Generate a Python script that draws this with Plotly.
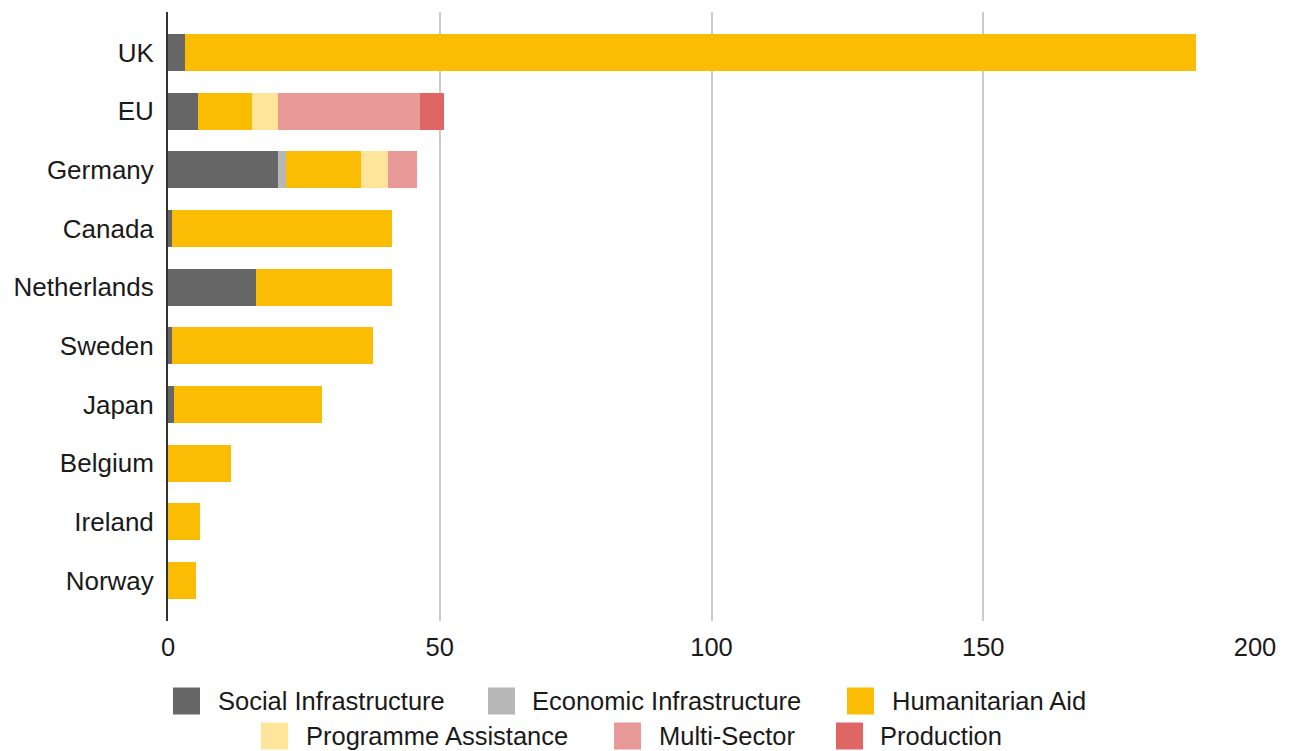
import plotly.graph_objects as go

countries = ["UK", "EU", "Germany", "Canada", "Netherlands", "Sweden", "Japan", "Belgium", "Ireland", "Norway"]
social = [3.1, 5.6, 20.2, 0.7, 16.1, 0.7, 1.1, 0, 0, 0]
economic = [0, 0, 1.6, 0, 0, 0, 0, 0, 0, 0]
humanitarian = [186.0, 9.8, 13.8, 40.6, 25.2, 37.0, 27.2, 11.6, 5.9, 5.1]
programme = [0, 4.9, 4.9, 0, 0, 0, 0, 0, 0, 0]
multisector = [0, 26.0, 5.3, 0, 0, 0, 0, 0, 0, 0]
production = [0, 4.4, 0, 0, 0, 0, 0, 0, 0, 0]

series_names = ["Social Infrastructure", "Economic Infrastructure", "Humanitarian Aid",
                "Programme Assistance", "Multi-Sector", "Production"]
series_values = [social, economic, humanitarian, programme, multisector, production]
colors = ["#666666", "#b7b7b7", "#fbbc04", "#ffe599", "#ea9999", "#e06666"]

x_ticks = [0, 50, 100, 150, 200]

W, H = 1291, 751
L, R, T, B = 168, 36, 12, 130
pw, ph = W - L - R, H - T - B

fig = go.Figure()
for name, vals, col in zip(series_names, series_values, colors):
    fig.add_trace(go.Bar(
        y=countries, x=vals, name=name, orientation="h",
        marker=dict(color=col, line=dict(width=0)),
        showlegend=False,
    ))

n = len(countries)
fig.update_layout(
    width=W, height=H,
    margin=dict(l=L, r=R, t=T, b=B),
    barmode="stack",
    bargap=0.37,
    plot_bgcolor="white", paper_bgcolor="white",
    font=dict(family="Liberation Sans, Arial, sans-serif", size=25, color="#1a1a1a"),
    xaxis=dict(
        range=[0, 200], tickvals=x_ticks, ticktext=[str(v) for v in x_ticks],
        showgrid=True, gridcolor="#cccccc", gridwidth=2,
        zeroline=False, showline=False, ticks="",
        ticklabelstandoff=8,
        tickfont=dict(size=25.5, color="#1a1a1a"),
    ),
    yaxis=dict(
        type="category", categoryorder="array", categoryarray=countries,
        range=[n - 1 + 0.69, -0.69],
        showgrid=False, zeroline=False,
        showline=True, linecolor="#333333", linewidth=2,
        ticks="", ticklabelstandoff=7,
        tickfont=dict(size=26, color="#1a1a1a"),
    ),
)

# Manual legend (large swatches as in reference)
legend_rows = [
    [(0, 173, 217), (1, 488, 531), (2, 847, 891)],
    [(3, 261, 305), (4, 614, 658), (5, 836, 879)],
]
row_centers = [701, 736]
sq = 27
shapes = []
annotations = []
for row, cy in zip(legend_rows, row_centers):
    for idx, sx, tx in row:
        x0 = (sx - L) / pw
        x1 = (sx + sq - L) / pw
        y0 = (H - B - (cy + sq / 2)) / ph
        y1 = (H - B - (cy - sq / 2)) / ph
        shapes.append(dict(type="rect", xref="paper", yref="paper",
                           x0=x0, x1=x1, y0=y0, y1=y1,
                           fillcolor=colors[idx], line=dict(width=0), layer="above"))
        annotations.append(dict(text=series_names[idx], xref="paper", yref="paper",
                                x=(tx - L) / pw, y=(H - B - cy) / ph,
                                xanchor="left", yanchor="middle", showarrow=False,
                                font=dict(size=25.5, color="#1a1a1a"), borderpad=0))
fig.update_layout(shapes=shapes, annotations=annotations)

fig.write_html("out.html", config={"displayModeBar": False},
               post_script="document.body.style.margin='0';document.body.style.overflow='hidden';")
